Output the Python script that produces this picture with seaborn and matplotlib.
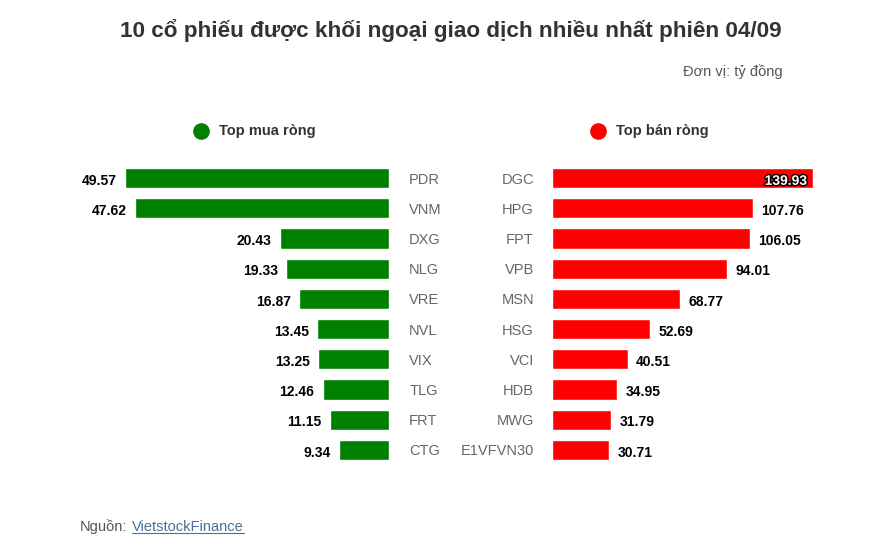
import matplotlib
matplotlib.use("Agg")
import matplotlib.pyplot as plt
import matplotlib.patheffects as pe
import seaborn as sns
import pandas as pd

# Data (tỷ đồng)
buy_tickers = ["PDR", "VNM", "DXG", "NLG", "VRE", "NVL", "VIX", "TLG", "FRT", "CTG"]
buy_values = [49.57, 47.62, 20.43, 19.33, 16.87, 13.45, 13.25, 12.46, 11.15, 9.34]
sell_tickers = ["DGC", "HPG", "FPT", "VPB", "MSN", "HSG", "VCI", "HDB", "MWG", "E1VFVN30"]
sell_values = [139.93, 107.76, 106.05, 94.01, 68.77, 52.69, 40.51, 34.95, 31.79, 30.71]

GREEN = "#008000"
RED = "#ff0000"
W, H = 880, 551

sns.set_theme(style="white")
plt.rcParams['font.family'] = ['Liberation Sans', 'DejaVu Sans']

fig = plt.figure(figsize=(W / 100, H / 100), dpi=100)
fig.patch.set_facecolor("white")


def px(x, y, w, h):
    # pixel box (top-left origin) -> figure fraction
    return [x / W, 1 - (y + h) / H, w / W, h / H]


ax_top, ax_h = 163, 302
ax_buy = fig.add_axes(px(70, ax_top, 319, ax_h))
ax_sell = fig.add_axes(px(552, ax_top, 300, ax_h))

buy_df = pd.DataFrame({"ticker": buy_tickers, "value": buy_values})
sell_df = pd.DataFrame({"ticker": sell_tickers, "value": sell_values})

sns.barplot(data=buy_df, x="value", y="ticker", orient="h", color=GREEN,
            saturation=1, width=0.67, ax=ax_buy)
sns.barplot(data=sell_df, x="value", y="ticker", orient="h", color=RED,
            saturation=1, width=0.67, ax=ax_sell)

ax_buy.set_xlim(59.9, 0)
ax_sell.set_xlim(0, 160.9)

for ax in (ax_buy, ax_sell):
    ax.set_xlabel("")
    ax.set_ylabel("")
    ax.set_xticks([])
    sns.despine(ax=ax, left=True, bottom=True)
    ax.set_facecolor("none")

ax_buy.yaxis.tick_right()
ax_buy.tick_params(axis="y", length=0, pad=14.5, labelsize=10.5, labelcolor="#666666")
ax_sell.tick_params(axis="y", length=0, pad=13, labelsize=10.5, labelcolor="#666666")

# value labels
for i, v in enumerate(buy_values):
    ax_buy.annotate(f"{v:.2f}", (v, i), xytext=(-6, -2), textcoords="offset points",
                    ha="right", va="center", fontsize=10, fontweight="bold", color="black")

max_sell = max(sell_values)
for i, v in enumerate(sell_values):
    if v == max_sell:
        t = ax_sell.annotate(f"{v:.2f}", (v, i), xytext=(-4, -2), textcoords="offset points",
                             ha="right", va="center", fontsize=10, fontweight="bold", color="white")
        t.set_path_effects([pe.withStroke(linewidth=2, foreground="black")])
    else:
        ax_sell.annotate(f"{v:.2f}", (v, i), xytext=(6, -2), textcoords="offset points",
                         ha="left", va="center", fontsize=10, fontweight="bold", color="black")

# title and unit
fig.text(451 / W, 1 - 30 / H, "10 cổ phiếu được khối ngoại giao dịch nhiều nhất phiên 04/09",
         ha="center", va="center", fontsize=16.2, fontweight="bold", color="#333333")
fig.text(783 / W, 1 - 72 / H, "Đơn vị: tỷ đồng", ha="right", va="center",
         fontsize=10.5, color="#555555")

# legend
for cx, label, col in [(201, "Top mua ròng", GREEN), (598, "Top bán ròng", RED)]:
    fig.add_artist(plt.Line2D([cx / W], [1 - 131 / H], marker="o", markersize=11,
                              color=col, linestyle="none", transform=fig.transFigure))
    fig.text((cx + 18) / W, 1 - 131 / H, label, ha="left", va="center",
             fontsize=10.5, fontweight="bold", color="#333333")

# source
fig.text(80 / W, 1 - 527 / H, "Nguồn:", ha="left", va="center", fontsize=10.5, color="#555555")
link = fig.text(132 / W, 1 - 527 / H, "VietstockFinance", ha="left", va="center",
                fontsize=10.5, color="#4a6f9a")
fig.canvas.draw()
bb = link.get_window_extent().transformed(fig.transFigure.inverted())
fig.add_artist(plt.Line2D([bb.x0, bb.x1], [bb.y0 + 0.001, bb.y0 + 0.001], color="#4a6f9a",
                          linewidth=0.8, transform=fig.transFigure))

fig.savefig("out.png", dpi=100, facecolor="white")
